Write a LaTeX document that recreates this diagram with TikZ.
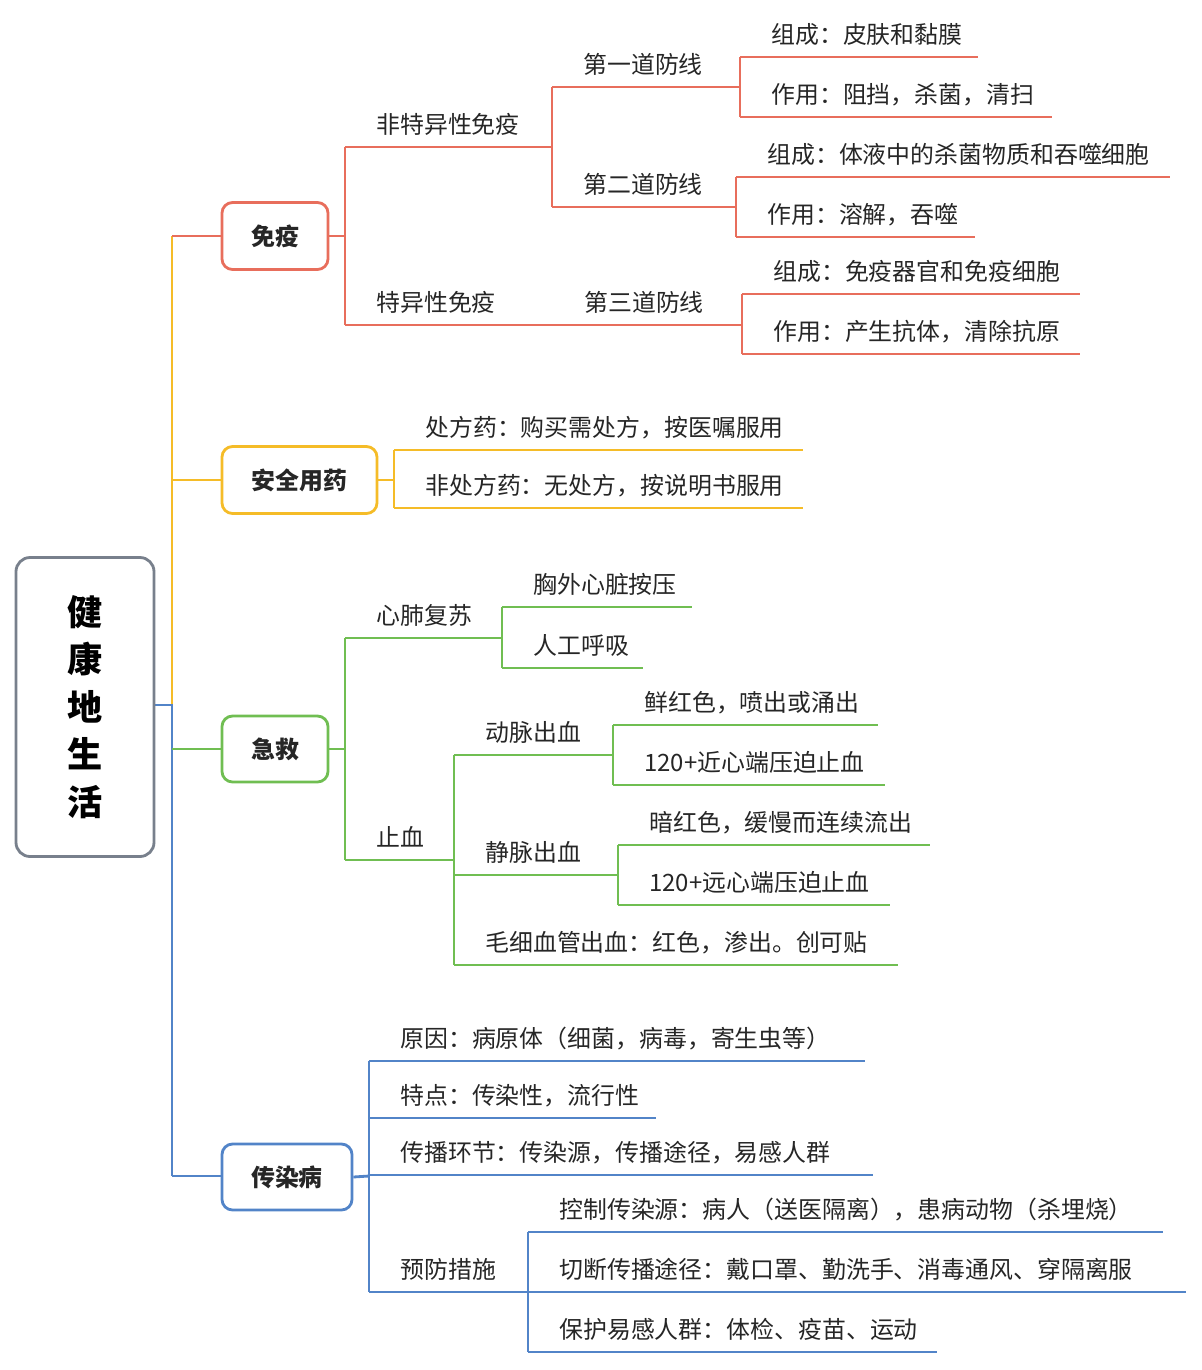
\documentclass[tikz,border=0pt]{standalone}
\usepackage{fontspec}
\setmainfont{Noto Sans CJK SC}
\usetikzlibrary{positioning}
\definecolor{cred}{RGB}{232,110,92}
\definecolor{cyel}{RGB}{245,188,40}
\definecolor{cgrn}{RGB}{112,190,82}
\definecolor{cblu}{RGB}{82,132,200}
\definecolor{cgry}{RGB}{120,128,140}
\tikzset{
  leaf/.style={anchor=base west,inner sep=0pt,font=\fontsize{13.6}{16}\selectfont,text=black!85},
  topic/.style={draw,rounded corners=6pt,line width=1.6pt,fill=white,font=\fontsize{13.6}{16}\selectfont\bfseries,text=black!85}
}
\newcommand\br[6]{% name, colour, x0, x1, y, text
  \draw[#2] (#3,#5) -- (#4,#5);
  \node[leaf] (#1) at (#3+30,#5-14) {#6};
}
\begin{document}
\begin{tikzpicture}[x=0.02cm,y=-0.02cm,line width=1.6pt]
\useasboundingbox (0,0) rectangle (1202,1370);
%trunk
\draw[cyel] (172,236) -- (172,705);
\draw[cblu] (154,705) -- (172,705) -- (172,1176);
\draw[cred] (172,236) -- (222,236);
\draw[cyel] (172,480) -- (222,480);
\draw[cgrn] (172,749) -- (222,749);
\draw[cblu] (172,1176) -- (222,1176);
%root
\node[draw=cgry,rounded corners=8pt,line width=1.6pt,minimum width=138*0.02cm,minimum height=299*0.02cm,
  font=\fontsize{20}{25}\selectfont\bfseries,align=center] (root) at (85,707)
  {健\\[2pt]康\\[2pt]地\\[2pt]生\\[2pt]活};
%免疫
\node[topic,draw=cred,minimum width=106*0.02cm,minimum height=67*0.02cm] (my) at (275,236) {免疫};
\draw[cred] (my.east) -- (345,236);
\draw[cred] (345,147) -- (345,325);
\br{fty}{cred}{345}{552}{147}{非特异性免疫}
\draw[cred] (552,87) -- (552,207);
\br{d1}{cred}{552}{740}{87}{第一道防线}
\draw[cred] (740,57) -- (740,117);
\br{d1a}{cred}{740}{978}{57}{组成：皮肤和黏膜}
\br{d1b}{cred}{740}{1052}{117}{作用：阻挡，杀菌，清扫}
\br{d2}{cred}{552}{736}{207}{第二道防线}
\draw[cred] (736,177) -- (736,237);
\br{d2a}{cred}{736}{1170}{177}{组成：体液中的杀菌物质和吞噬细胞}
\br{d2b}{cred}{736}{975}{237}{作用：溶解，吞噬}
\br{ty}{cred}{345}{742}{325}{特异性免疫}
\node[leaf] (d3) at (583,311) {第三道防线};
\draw[cred] (742,294) -- (742,354);
\br{d3a}{cred}{742}{1080}{294}{组成：免疫器官和免疫细胞}
\br{d3b}{cred}{742}{1080}{354}{作用：产生抗体，清除抗原}
%安全用药
\node[topic,draw=cyel,minimum width=155*0.02cm,minimum height=67*0.02cm] (aq) at (299.5,480) {安全用药};
\draw[cyel] (aq.east) -- (394,480);
\draw[cyel] (394,450) -- (394,508);
\br{cf}{cyel}{394}{803}{450}{处方药：购买需处方，按医嘱服用}
\br{fcf}{cyel}{394}{803}{508}{非处方药：无处方，按说明书服用}
%急救
\node[topic,draw=cgrn,minimum width=106*0.02cm,minimum height=66*0.02cm] (jj) at (275,749) {急救};
\draw[cgrn] (jj.east) -- (345,749);
\draw[cgrn] (345,638) -- (345,860);
\br{xf}{cgrn}{345}{502}{638}{心肺复苏}
\draw[cgrn] (502,607) -- (502,668);
\br{xfa}{cgrn}{502}{692}{607}{胸外心脏按压}
\br{xfb}{cgrn}{502}{643}{668}{人工呼吸}
\br{zx}{cgrn}{345}{454}{860}{止血}
\draw[cgrn] (454,755) -- (454,965);
\br{dm}{cgrn}{454}{613}{755}{动脉出血}
\draw[cgrn] (613,725) -- (613,785);
\br{dma}{cgrn}{613}{878}{725}{鲜红色，喷出或涌出}
\br{dmb}{cgrn}{613}{885}{785}{120+近心端压迫止血}
\br{jm}{cgrn}{454}{618}{875}{静脉出血}
\draw[cgrn] (618,845) -- (618,905);
\br{jma}{cgrn}{618}{930}{845}{暗红色，缓慢而连续流出}
\br{jmb}{cgrn}{618}{890}{905}{120+远心端压迫止血}
\br{mx}{cgrn}{454}{898}{965}{毛细血管出血：红色，渗出。创可贴}
%传染病
\node[topic,draw=cblu,minimum width=130*0.02cm,minimum height=66*0.02cm] (cr) at (287,1177) {传染病};
\draw[cblu] (cr.east) -- (369,1176);
\draw[cblu] (369,1061) -- (369,1292);
\br{yy}{cblu}{369}{865}{1061}{原因：病原体（细菌，病毒，寄生虫等）}
\br{td}{cblu}{369}{656}{1118}{特点：传染性，流行性}
\br{hj}{cblu}{369}{873}{1175}{传播环节：传染源，传播途径，易感人群}
\br{yf}{cblu}{369}{528}{1292}{预防措施}
\draw[cblu] (528,1232) -- (528,1352);
\br{yfa}{cblu}{528}{1163}{1232}{控制传染源：病人（送医隔离），患病动物（杀埋烧）}
\br{yfb}{cblu}{528}{1186}{1292}{切断传播途径：戴口罩、勤洗手、消毒通风、穿隔离服}
\br{yfc}{cblu}{528}{937}{1352}{保护易感人群：体检、疫苗、运动}
\end{tikzpicture}
\end{document}
